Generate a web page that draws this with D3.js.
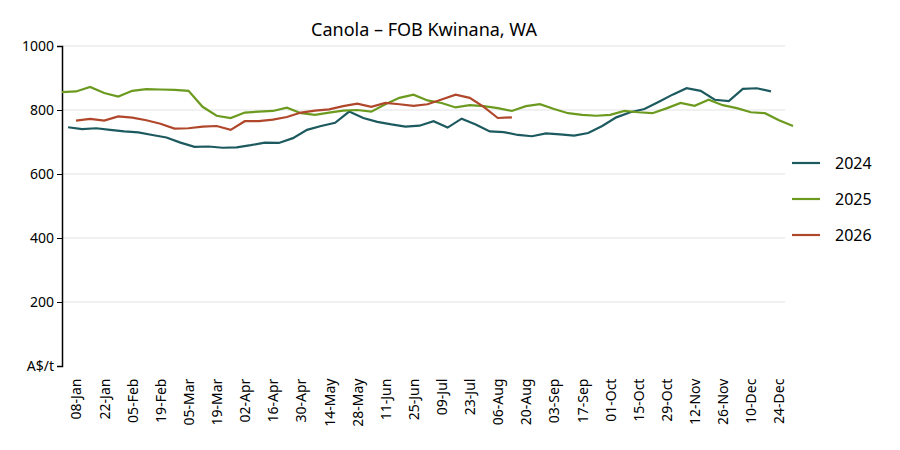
<!DOCTYPE html>
<html>
<head>
<meta charset="utf-8" />
<script src="https://unpkg.com/d3@7.9.0/dist/d3.min.js"></script>
<style>
  html,body{margin:0;padding:0;background:#fff;}
  text{font-family:"Noto Sans",sans-serif;}
</style>
</head>
<body>
<svg id="svg" width="900" height="450"></svg>
<script>
// weekly values, first point's day offset from 01-Jan
const s2024 = [746,740,743,738,733,730,722,714,698,685,686,682,683,690,698,697,712,738,750,760,795,775,763,755,748,751,765,745,773,755,733,731,722,718,727,724,720,728,750,777,793,803,825,848,868,860,832,828,866,868,858];
const s2025 = [856,858,872,853,842,860,865,864,863,860,810,782,775,792,795,797,807,790,785,792,798,800,795,818,838,848,830,822,808,815,812,806,797,812,818,803,790,785,782,785,797,793,790,805,822,813,832,815,806,793,790,768,750];
const s2026 = [767,772,767,780,776,768,757,742,743,748,750,738,765,765,770,778,792,798,802,812,820,810,822,818,813,818,833,848,838,810,775,777];
const series = [
  {name:'2024', color:'#1d5a5f', start:3, values:s2024},
  {name:'2025', color:'#6b9a1f', start:0, values:s2025},
  {name:'2026', color:'#b0472b', start:7, values:s2026}
];
const yTicks = [0,200,400,600,800,1000];
const tickDays = d3.range(7, 364, 14); // 08-Jan, 22-Jan, ...

const svg = d3.select('#svg');
const m = {l:62, r:785, t:46, b:366};
const base = new Date(2001,0,1);
const day = d => d3.timeDay.offset(base, d);
const x = d3.scaleTime().domain([day(0), day(360)]).range([m.l, m.r]);
const y = d3.scaleLinear().domain([0,1000]).range([m.b, m.t]);

svg.append('text').attr('x',424).attr('y',36).attr('text-anchor','middle')
  .attr('font-size',18).text('Canola – FOB Kwinana, WA');

// grid
svg.append('g').selectAll('line').data(yTicks.slice(1)).join('line')
  .attr('x1',m.l).attr('x2',m.r).attr('y1',y).attr('y2',y)
  .attr('stroke','#ececec').attr('stroke-width',1.5);

// y axis
const ya = svg.append('g').attr('transform',`translate(${m.l},0)`)
  .call(d3.axisLeft(y).tickValues(yTicks).tickSize(5).tickFormat(d=>d===0?'A$/t':d));
ya.select('.domain').attr('stroke','#000').attr('stroke-width',1.5);
ya.selectAll('text').attr('font-size',14).attr('fill','#000');

// x axis labels
const fmt = d3.timeFormat('%d-%b');
const xa = svg.append('g').attr('transform',`translate(0,${m.b})`)
  .call(d3.axisBottom(x).tickValues(tickDays.map(day)).tickSize(0).tickFormat(fmt));
xa.select('.domain').remove();
xa.selectAll('text').attr('font-size',14).attr('fill','#000')
  .attr('transform','rotate(-90)').attr('text-anchor','end')
  .attr('dx','-0.9em').attr('dy','0.35em').attr('y',0).attr('x',0);

// lines
const line = d3.line().x(d=>x(d[0])).y(d=>y(d[1]));
series.forEach(s=>{
  const pts = s.values.map((v,i)=>[day(s.start+i*7), v]);
  svg.append('path').datum(pts).attr('d',line).attr('fill','none')
    .attr('stroke',s.color).attr('stroke-width',2.2);
});

// legend
const lg = svg.append('g').selectAll('g').data(series).join('g')
  .attr('transform',(d,i)=>`translate(792,${163+i*36})`);
lg.append('line').attr('x1',0).attr('x2',28).attr('stroke',d=>d.color).attr('stroke-width',2.2);
lg.append('text').attr('x',43).attr('dy','0.35em').attr('font-size',16).text(d=>d.name);
</script>
</body>
</html>
